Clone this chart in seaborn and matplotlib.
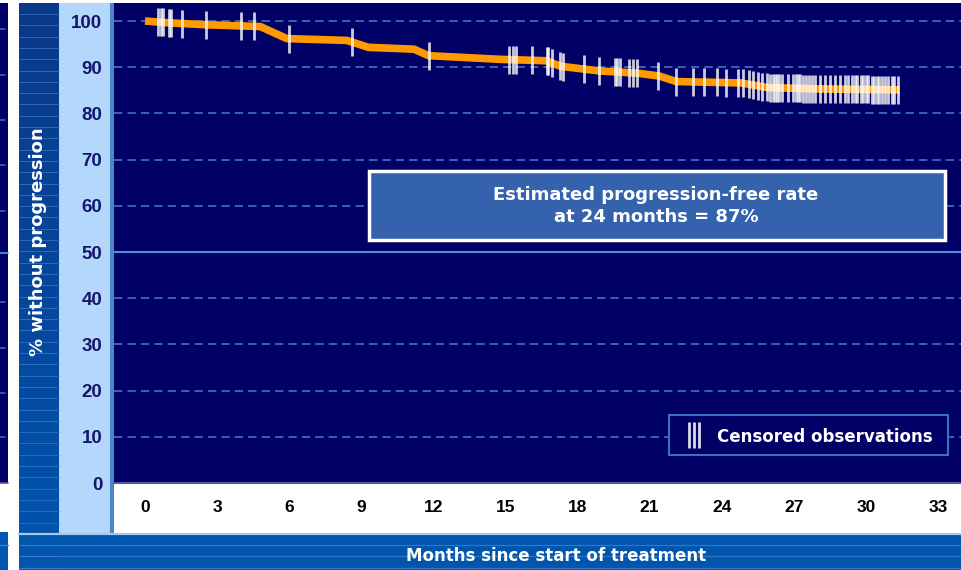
import numpy as np
import matplotlib
matplotlib.use("Agg")
import matplotlib.pyplot as plt
from matplotlib.patches import Rectangle
from matplotlib.colors import LinearSegmentedColormap
from matplotlib import font_manager
import seaborn as sns

# Kaplan-Meier estimate of progression-free percentage
curve_months = [0, 1.0, 2.5, 4.8, 5.9, 8.4, 9.3, 11.2, 11.8, 14.8, 16.7, 17.3,
                18.9, 20.5, 21.4, 22.1, 24.8, 25.9, 28.0, 31.4]
curve_pct = [100, 99.6, 99.2, 98.8, 96.2, 95.8, 94.3, 93.9, 92.5, 91.7, 91.4, 90.2,
             89.2, 88.7, 88.1, 86.9, 86.6, 85.6, 85.3, 85.1]

# Times of censored observations (months)
censored_months = [
    0.55, 0.68, 0.76, 0.98, 1.10, 1.55, 2.55, 4.00, 4.55, 5.98, 8.63, 11.80,
    15.16, 15.30, 15.44, 16.12, 16.72, 16.78, 16.92, 17.27, 17.38, 18.27, 18.91,
    19.56, 19.63, 19.77, 20.15, 20.32, 20.46, 21.36, 22.10, 22.79, 23.26, 23.82,
    24.18, 24.69, 24.90, 25.15, 25.29, 25.52, 25.66, 25.87, 26.01, 26.13, 26.22,
    26.30, 26.38, 26.50, 26.77, 26.97, 27.09, 27.17, 27.26, 27.38, 27.51, 27.63,
    27.74, 27.88, 28.09, 28.30, 28.51, 28.71, 28.92, 29.13, 29.26, 29.41, 29.55,
    29.64, 29.78, 29.86, 30.00, 30.10, 30.24, 30.33, 30.45, 30.56, 30.66, 30.79,
    30.93, 31.07, 31.17, 31.35,
]

x_ticks = list(range(0, 34, 3))
y_ticks = list(range(0, 101, 10))
x_label = "Months since start of treatment"
y_label = "% without progression"
rate_text = "Estimated progression-free rate\nat 24 months = 87%"
legend_label = "Censored observations"

NAVY = "#000066"
ORANGE = "#ff9900"

sns.set_theme(style="white")
plt.rcParams["font.family"] = ["DejaVu Sans"]
installed = {f.name for f in font_manager.fontManager.ttflist}
tick_family = "Liberation Sans Narrow" if "Liberation Sans Narrow" in installed else "Liberation Sans"

W, H = 962, 570
fig = plt.figure(figsize=(W / 100, H / 100), dpi=100, facecolor="white")

# ---- background panels in pixel coordinates ----
deco = fig.add_axes([0, 0, 1, 1], zorder=0)
deco.set_xlim(0, W)
deco.set_ylim(H, 0)
deco.axis("off")

# neighbouring panel edge on the far left
deco.add_patch(Rectangle((0, 3), 8, 480, facecolor=NAVY, edgecolor="none"))
for py in [29, 75, 120, 165, 211, 302, 348, 393, 437]:
    deco.plot([0, 8], [py, py], color="#3763b0", lw=1.3, ls=(0, (3, 2)))
deco.plot([0, 8], [253, 253], color="#4a8fdc", lw=1.3)
deco.plot([0, 8], [483, 483], color="#55559f", lw=1.2)
deco.add_patch(Rectangle((0, 532), 8, 38, facecolor="#0055ad", edgecolor="none"))

# axis-title strip with a vertical gradient
cmap = LinearSegmentedColormap.from_list("strip", ["#0a3989", "#0054ae"])
grad = np.linspace(0, 1, 200).reshape(-1, 1)
deco.imshow(grad, extent=(19, 59, H, 3), aspect="auto", cmap=cmap, origin="upper", zorder=1)
for py in np.arange(14, H, 11.3):
    deco.plot([19, 59], [py, py], color="#3f78c6", lw=0.7, alpha=0.7, zorder=2)

# tick-label strip and separator
deco.add_patch(Rectangle((59, 3), 51, 530, facecolor="#b3d8fb", edgecolor="none", zorder=1))
deco.add_patch(Rectangle((110, 3), 4, 530, facecolor="#4a86c6", edgecolor="none", zorder=1))

# bottom title bar
deco.add_patch(Rectangle((19, 533), W - 19, 37, facecolor="#0055ad", edgecolor="none", zorder=1))
deco.plot([0, 8], [545, 545], color="#3f7dcc", lw=1.0, zorder=2)
for py in [545.1, 556.4, 567.7]:
    deco.plot([19, W], [py, py], color="#3f7dcc", lw=0.9, alpha=0.8, zorder=2)
deco.plot([19, W], [533.5, 533.5], color="#a9c8e8", lw=1.6, zorder=2)

# ---- main plotting area ----
ax = fig.add_axes([114 / W, 87 / H, 848 / W, 480 / H], zorder=2)
ax.set_facecolor(NAVY)
ax.set_xlim(-1.29, 34.0)
ax.set_ylim(0, 103.9)

for v in y_ticks[1:]:
    if v == 50:
        ax.axhline(v, color="#4a8fdc", lw=1.5, zorder=1)
    else:
        ax.axhline(v, color="#3763b0", lw=1.4, ls=(0, (4.3, 2.6)), zorder=1)

sns.lineplot(x=curve_months, y=curve_pct, color=ORANGE, lw=5.5, sort=False,
             estimator=None, ax=ax, zorder=3, solid_capstyle="butt")

censor_pct = np.interp(censored_months, curve_months, curve_pct)
sns.scatterplot(x=censored_months, y=censor_pct, marker="|", s=400, color="white",
                alpha=0.8, linewidth=2.0, ax=ax, zorder=4)

ax.set_xticks(x_ticks)
ax.set_yticks(y_ticks)
ax.set_xticklabels([str(t) for t in x_ticks])
ax.set_yticklabels([str(t) for t in y_ticks])
ax.tick_params(axis="both", length=0)
ax.tick_params(axis="x", pad=12, colors="black")
ax.tick_params(axis="y", pad=8.5, colors="#16166e")
for lab in ax.get_xticklabels():
    lab.set_fontfamily(tick_family)
    lab.set_fontweight("bold")
    lab.set_fontsize(12.5)
for lab in ax.get_yticklabels():
    lab.set_fontfamily(tick_family)
    lab.set_fontweight("bold")
    lab.set_fontsize(13.5)
ax.set_xlabel("")
ax.set_ylabel("")
ax.grid(False)
for side in ["top", "right", "left"]:
    ax.spines[side].set_visible(False)
ax.spines["bottom"].set_color("#55559f")
ax.spines["bottom"].set_linewidth(1.5)

# progression-free rate callout
ax.add_patch(Rectangle((0.3007, 0.506), 0.6793, 0.144, transform=ax.transAxes,
                       facecolor="#3462ad", edgecolor="white", lw=2.5, zorder=5))
ax.text(0.639, 0.577, rate_text, transform=ax.transAxes, ha="center", va="center",
        color="white", fontsize=13, fontweight="bold", linespacing=1.35, zorder=6)

# censoring key
ax.add_patch(Rectangle((0.6545, 0.0583), 0.329, 0.0834, transform=ax.transAxes,
                       facecolor=NAVY, edgecolor="#3b6fc0", lw=1.5, zorder=5))
ax.plot([0.6775, 0.6835, 0.6895], [0.1, 0.1, 0.1], transform=ax.transAxes,
        ls="none", marker="|", ms=19, mew=2.0, color="white", alpha=0.85, zorder=6)
ax.text(0.711, 0.096, legend_label, transform=ax.transAxes, ha="left", va="center",
        color="white", fontsize=12, fontweight="bold", zorder=6)

# axis titles
fig.text(38 / W, 1 - 242 / H, y_label, rotation=90, ha="center", va="center",
         color="white", fontsize=13, fontweight="bold")
fig.text(556 / W, 1 - 556 / H, x_label, ha="center", va="center",
         color="white", fontsize=12, fontweight="bold")

fig.savefig("out.png", dpi=100, facecolor="white")
